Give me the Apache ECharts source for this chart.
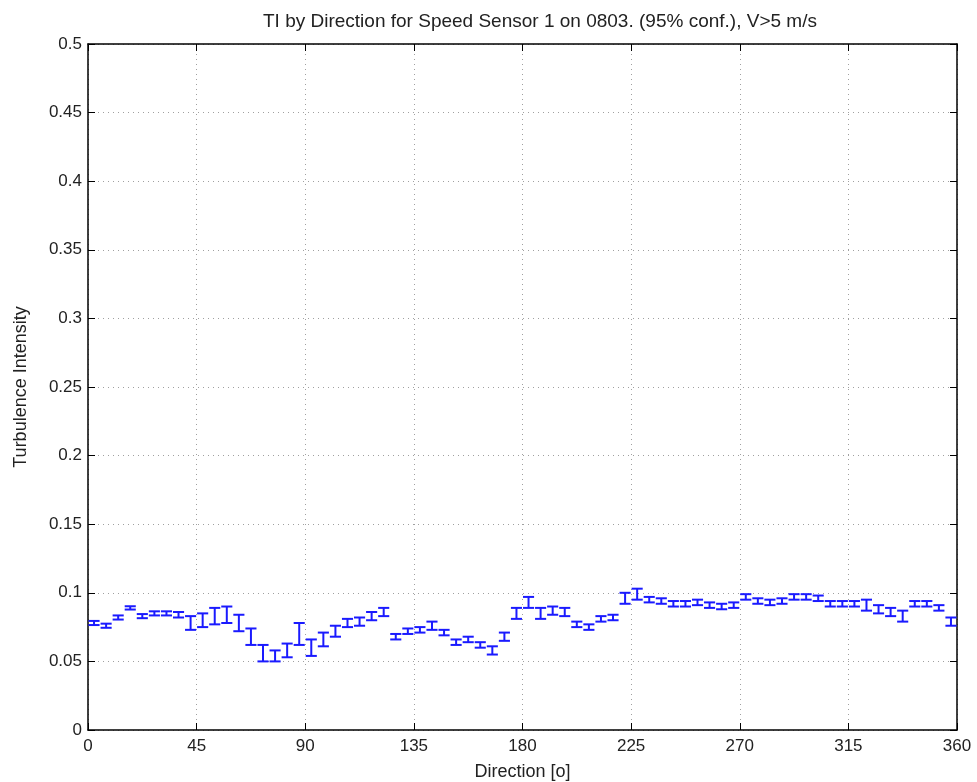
<!DOCTYPE html>
<html>
<head>
<meta charset="utf-8">
<script src="https://cdn.jsdelivr.net/npm/echarts@6/dist/echarts.min.js"></script>
<style>html,body{margin:0;padding:0;background:#fff;}#chart{width:977px;height:782px;}</style>
</head>
<body>
<div id="chart"></div>
<script>
const directions = [2.5,7.5,12.5,17.5,22.5,27.5,32.5,37.5,42.5,47.5,52.5,57.5,62.5,67.5,72.5,77.5,82.5,87.5,92.5,97.5,102.5,107.5,112.5,117.5,122.5,127.5,132.5,137.5,142.5,147.5,152.5,157.5,162.5,167.5,172.5,177.5,182.5,187.5,192.5,197.5,202.5,207.5,212.5,217.5,222.5,227.5,232.5,237.5,242.5,247.5,252.5,257.5,262.5,267.5,272.5,277.5,282.5,287.5,292.5,297.5,302.5,307.5,312.5,317.5,322.5,327.5,332.5,337.5,342.5,347.5,352.5,357.5];
const tiMean = [0.078,0.076,0.082,0.089,0.083,0.085,0.085,0.084,0.078,0.080,0.083,0.084,0.078,0.068,0.056,0.054,0.058,0.070,0.060,0.066,0.072,0.078,0.079,0.083,0.086,0.068,0.072,0.073,0.076,0.071,0.064,0.066,0.062,0.058,0.068,0.085,0.093,0.085,0.087,0.086,0.077,0.075,0.081,0.082,0.096,0.099,0.095,0.094,0.092,0.092,0.093,0.091,0.090,0.091,0.097,0.094,0.093,0.094,0.097,0.097,0.096,0.092,0.092,0.092,0.091,0.088,0.086,0.083,0.092,0.092,0.089,0.079];
const tiErr = [0.0015,0.0015,0.0015,0.0012,0.0015,0.0015,0.0015,0.002,0.005,0.005,0.006,0.006,0.006,0.006,0.006,0.004,0.005,0.008,0.006,0.005,0.004,0.003,0.003,0.003,0.003,0.002,0.002,0.002,0.003,0.002,0.002,0.002,0.002,0.003,0.003,0.004,0.004,0.004,0.003,0.003,0.002,0.002,0.002,0.002,0.004,0.004,0.002,0.002,0.002,0.002,0.002,0.002,0.002,0.002,0.002,0.002,0.002,0.002,0.002,0.002,0.002,0.002,0.002,0.002,0.004,0.003,0.003,0.004,0.002,0.002,0.002,0.003];

const data = directions.map((d,i)=>[d, tiMean[i], tiErr[i]]);
const chart = echarts.init(document.getElementById('chart'), null, {renderer:'canvas'});
const FONT = 'Liberation Sans, Arial, sans-serif';
const tickText = {color:'#222', fontFamily:FONT, fontSize:17};
const nameText = {color:'#222', fontFamily:FONT, fontSize:18};
const gridGap = {show:true, lineStyle:{color:'#a0a0a0', type:[1,4], width:1}};
chart.setOption({
  animation:false,
  backgroundColor:'#fff',
  title:{text:'TI by Direction for Speed Sensor 1 on 0803. (95% conf.), V>5 m/s', left:258, top:7,
    textStyle:{color:'#222', fontFamily:FONT, fontSize:19, fontWeight:'normal'}},
  grid:{left:88, right:20, top:44, bottom:52, containLabel:false, outerBoundsMode:'none'},
  xAxis:[{type:'value', min:0, max:360, interval:45, position:'bottom',
    name:'Direction [o]', nameLocation:'middle', nameGap:33, nameTextStyle:nameText,
    axisLine:{show:true, onZero:false, lineStyle:{color:'#000', width:1.5}},
    axisTick:{show:true, inside:true, length:7, lineStyle:{color:'#000'}},
    axisLabel:Object.assign({margin:8}, tickText),
    splitLine:gridGap},
    {type:'value', min:0, max:360, interval:45, position:'top',
    axisLine:{show:true, onZero:false, lineStyle:{color:'#000', width:1.5}},
    axisTick:{show:true, inside:true, length:7, lineStyle:{color:'#000'}},
    axisLabel:{show:false}, splitLine:{show:false}}],
  yAxis:[{type:'value', min:0, max:0.5, interval:0.05, position:'left',
    name:'Turbulence Intensity', nameLocation:'middle', nameGap:58, nameRotate:90, nameTextStyle:nameText,
    axisLine:{show:true, onZero:false, lineStyle:{color:'#000', width:1.5}},
    axisTick:{show:true, inside:true, length:7, lineStyle:{color:'#000'}},
    axisLabel:Object.assign({margin:6}, tickText),
    splitLine:gridGap},
    {type:'value', min:0, max:0.5, interval:0.05, position:'right',
    axisLine:{show:true, onZero:false, lineStyle:{color:'#000', width:1.5}},
    axisTick:{show:true, inside:true, length:7, lineStyle:{color:'#000'}},
    axisLabel:{show:false}, splitLine:{show:false}}],
  series:[{
    type:'custom', xAxisIndex:0, yAxisIndex:0, data:data, clip:false,
    renderItem:function(params, api){
      const x = api.value(0), m = api.value(1), e = api.value(2);
      const lo = api.coord([x, m-e]), hi = api.coord([x, m+e]);
      const hw = api.size([4.6, 0])[0]/2;
      const st = {stroke:'#1a1aff', lineWidth:2};
      return {type:'group', children:[
        {type:'line', shape:{x1:lo[0], y1:lo[1], x2:hi[0], y2:hi[1]}, style:st},
        {type:'line', shape:{x1:lo[0]-hw, y1:lo[1], x2:lo[0]+hw, y2:lo[1]}, style:st},
        {type:'line', shape:{x1:hi[0]-hw, y1:hi[1], x2:hi[0]+hw, y2:hi[1]}, style:st}
      ]};
    }
  }]
});
</script>
</body>
</html>
